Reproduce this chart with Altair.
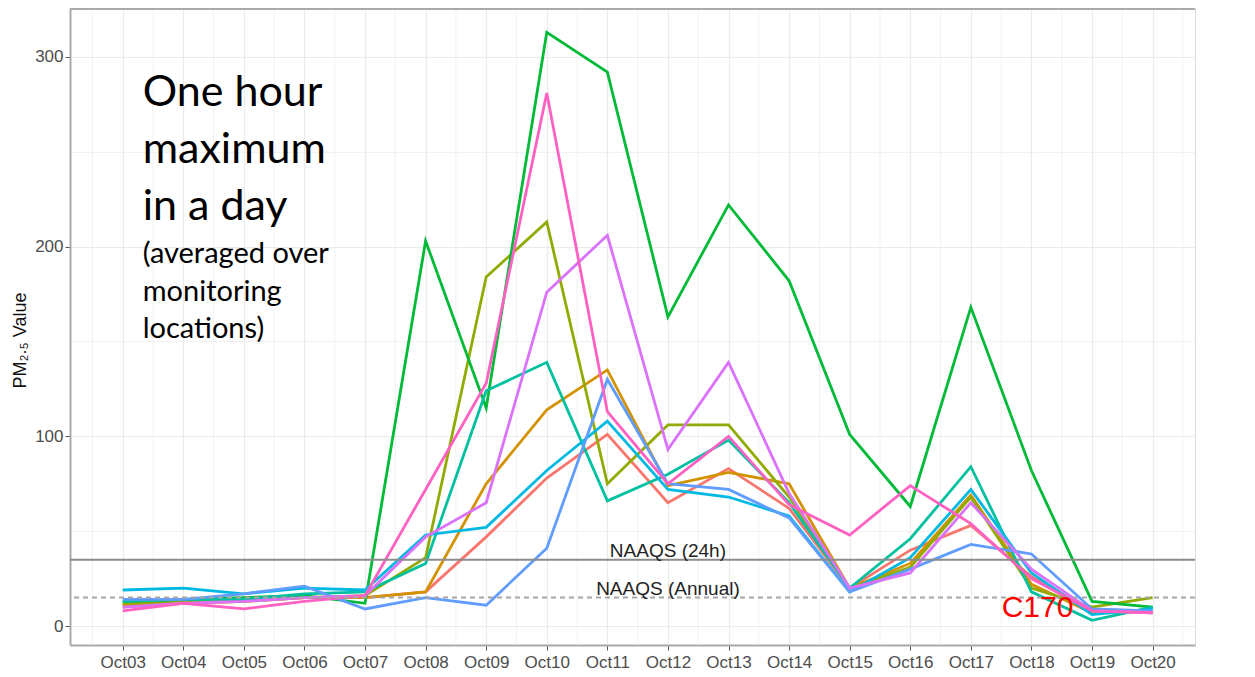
import altair as alt
import pandas as pd

# ---- data ----
dates = ["Oct03", "Oct04", "Oct05", "Oct06", "Oct07", "Oct08", "Oct09", "Oct10", "Oct11",
         "Oct12", "Oct13", "Oct14", "Oct15", "Oct16", "Oct17", "Oct18", "Oct19", "Oct20"]

series_names = ["L1", "L2", "L3", "L4", "L5", "L6", "L7", "L8", "L9"]
series_colors = ["#F8766D", "#D39200", "#93AA00", "#00BA38", "#00C19F",
                 "#00B9E3", "#619CFF", "#DB72FB", "#FF61C3"]

s_red    = [10, 12, 13, 15, 15, 18, 47, 78, 101, 65, 83, 62, 20, 40, 53, 26, 8, 7]
s_orange = [11, 12, 13, 15, 15, 18, 75, 114, 135, 74, 81, 75, 20, 33, 69, 22, 7, 8]
s_olive  = [12, 13, 14, 15, 16, 36, 184, 213, 75, 106, 106, 68, 20, 31, 68, 20, 10, 15]
s_green  = [13, 14, 15, 16, 12, 203, 115, 313, 292, 163, 222, 182, 101, 63, 168, 82, 13, 10]
s_teal   = [13, 14, 14, 17, 18, 33, 124, 139, 66, 80, 98, 65, 20, 46, 84, 18, 3, 10]
s_cyan   = [19, 20, 17, 20, 19, 48, 52, 82, 108, 72, 68, 58, 18, 36, 72, 28, 6, 9]
s_blue   = [14, 14, 17, 21, 9, 15, 11, 41, 130, 75, 72, 57, 18, 30, 43, 38, 9, 8]
s_violet = [10, 12, 13, 15, 16, 47, 65, 176, 206, 93, 139, 70, 20, 28, 65, 30, 8, 7]
s_pink   = [8, 12, 9, 13, 16, 72, 128, 281, 113, 75, 100, 64, 48, 74, 54, 25, 8, 7]

all_series = [s_red, s_orange, s_olive, s_green, s_teal, s_cyan, s_blue, s_violet, s_pink]

naaqs_labels = ["NAAQS (24h)", "NAAQS (Annual)"]
naaqs_values = [35, 15]
naaqs_label_date = "Oct12"

y_ticks = [0, 50, 100, 150, 200, 250, 300]

big_text = ["One hour", "maximum", "in a day"]
small_text = ["(averaged over", "monitoring", "locations)"]
site_text = "C170"

# ---- tables ----
rows = []
for name, vals in zip(series_names, all_series):
    for i, (d, v) in enumerate(zip(dates, vals)):
        rows.append({"series": name, "date": d, "idx": i, "value": v})
df = pd.DataFrame(rows)

naaqs_df = pd.DataFrame({
    "label": naaqs_labels,
    "value": naaqs_values,
    "date": [naaqs_label_date] * len(naaqs_labels),
})
# minor vertical grid lines sit half-way between the dates
minor_df = pd.DataFrame({"pos": [i - 0.5 for i in range(len(dates) + 1)]})
one = pd.DataFrame({"a": [0]})

W, H = 1125, 637
PAD_L, PAD_R = 0.87, 0.70  # outer space in steps, left / right

x_point = alt.Scale(type="point", domain=dates, padding=(PAD_L + PAD_R) / 2,
                    align=PAD_L / (PAD_L + PAD_R))
x_lin = alt.Scale(domain=[-PAD_L, len(dates) - 1 + PAD_R], nice=False, zero=False)
y_scale = alt.Scale(domain=[-10, 325.8], nice=False, zero=False)

x_axis = alt.Axis(
    labelAngle=0,
    grid=True, gridColor="#ebebeb", gridWidth=1.2,
    domainColor="#aaaaaa", domainWidth=2,
    tickColor="#555555", tickSize=5, tickWidth=1,
    labelPadding=4, labelFontSize=17, labelColor="#4d4d4d", labelFont="Liberation Sans",
    title=None,
)
y_axis = alt.Axis(
    values=y_ticks,
    labelExpr="datum.value % 100 === 0 ? datum.label : ''",
    tickOpacity={"condition": {"test": "datum.value % 100 === 0", "value": 1}, "value": 0},
    gridWidth={"condition": {"test": "datum.value % 100 === 0", "value": 1.2}, "value": 0.7},
    gridColor="#ebebeb",
    domainColor="#aaaaaa", domainWidth=2,
    tickColor="#555555", tickSize=5, tickWidth=1,
    labelPadding=2, labelFontSize=17, labelColor="#4d4d4d", labelFont="Liberation Sans",
    title="PM₂.₅ Value",
    titleFont="Liberation Sans", titleFontSize=18, titleFontWeight="normal", titleColor="#111111",
    titleX=-50, titleY=332, titleAngle=270, titleAlign="center", titleBaseline="middle",
)

minor_grid = alt.Chart(minor_df).mark_rule(color="#ededed", strokeWidth=0.7).encode(
    x=alt.X("pos:Q", scale=x_lin, axis=None),
)

lines = alt.Chart(df).mark_line(strokeWidth=2.8).encode(
    x=alt.X("date:O", scale=x_point, axis=x_axis, sort=dates),
    y=alt.Y("value:Q", scale=y_scale, axis=y_axis),
    color=alt.Color("series:N", scale=alt.Scale(domain=series_names, range=series_colors), legend=None),
    order=alt.Order("idx:Q"),
)

rule_24h = alt.Chart(naaqs_df.iloc[[0]]).mark_rule(color="#8c8c8c", strokeWidth=2).encode(
    y=alt.Y("value:Q", scale=y_scale),
)
rule_ann = alt.Chart(naaqs_df.iloc[[1]]).mark_rule(color="#a6a6a6", strokeWidth=2, strokeDash=[5, 4]).encode(
    y=alt.Y("value:Q", scale=y_scale),
)
naaqs_text = alt.Chart(naaqs_df).mark_text(
    align="center", baseline="alphabetic", dy=-3, fontSize=19, font="Liberation Sans", color="#222222"
).encode(
    x=alt.X("date:O", scale=x_point, axis=None, sort=dates),
    y=alt.Y("value:Q", scale=y_scale),
    text="label:N",
)

top_border = alt.Chart(one).mark_rule(color="#aaaaaa", strokeWidth=2).encode(
    x=alt.value(0), x2=alt.value(W), y=alt.value(1)
)

big = alt.Chart(one).mark_text(
    align="left", baseline="alphabetic", fontSize=43, font="Lato", color="#000000", lineHeight=57
).encode(x=alt.value(72.7), y=alt.value(97.7), text=alt.value(big_text))

small = alt.Chart(one).mark_text(
    align="left", baseline="alphabetic", fontSize=29, font="Lato", color="#000000", lineHeight=37.5
).encode(x=alt.value(72.7), y=alt.value(255.3), text=alt.value(small_text))

site = alt.Chart(one).mark_text(
    align="left", baseline="alphabetic", fontSize=30, font="Liberation Sans", color="#ff0000"
).encode(x=alt.value(931.7), y=alt.value(608.7), text=alt.value(site_text))

chart = alt.layer(
    minor_grid, lines, rule_24h, rule_ann, naaqs_text, top_border, big, small, site
).resolve_scale(
    x="independent"
).properties(
    width=W, height=H,
    autosize=alt.AutoSizeParams(type="none"),
    padding={"left": 62, "top": 0, "right": 50, "bottom": 30},
).configure_view(stroke=None).configure(background="white")

chart.save("out.html", embed_options={"renderer": "svg", "actions": False})
